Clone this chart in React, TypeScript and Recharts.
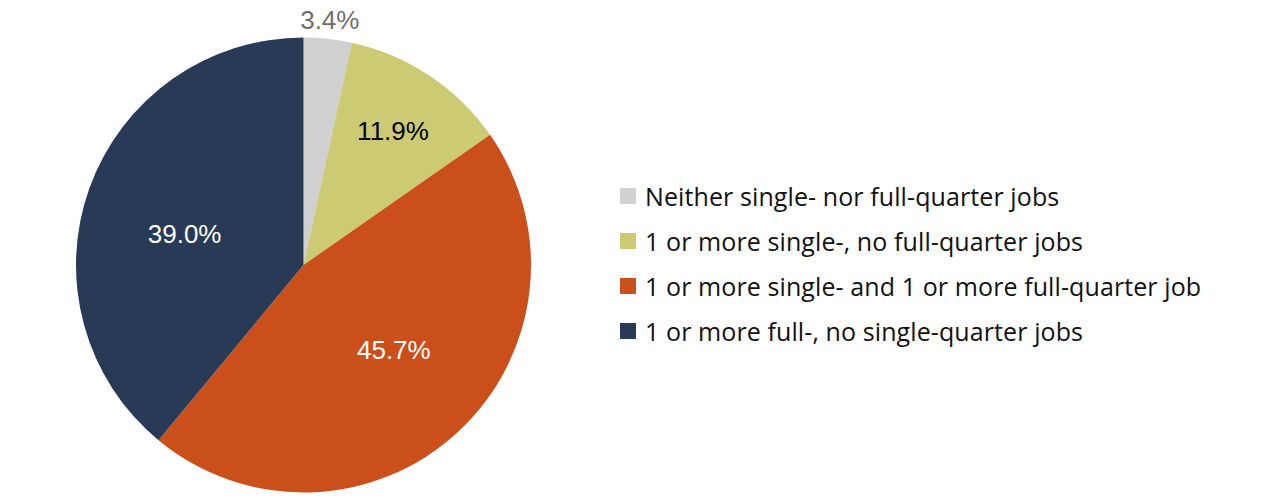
import React from "react";
import { PieChart, Pie, Cell, Legend } from "recharts";

const categories = [
  "Neither single- nor full-quarter jobs",
  "1 or more single-, no full-quarter jobs",
  "1 or more single- and 1 or more full-quarter job",
  "1 or more full-, no single-quarter jobs",
];
const values = [3.4, 11.9, 45.7, 39.0];
const colors = ["#D0D0D0", "#CCCB74", "#CB4F1B", "#283A55"];
const labelColors = ["#707070", "#000000", "#FFFFFF", "#FFFFFF"];
const labelRadiusFactors = [1.085, 0.71, 0.546, 0.54];
const labelAngleOffsets = [0, 0, 4, 5.2];

const data = categories.map((name, i) => ({ name, value: values[i] }));

const RADIAN = Math.PI / 180;

const renderLabel = (props: any) => {
  const { cx, cy, midAngle, outerRadius, index, value } = props;
  const r = outerRadius * labelRadiusFactors[index];
  const a = midAngle + labelAngleOffsets[index];
  const x = cx + r * Math.cos(-a * RADIAN);
  const y = cy + r * Math.sin(-a * RADIAN);
  return (
    <text
      x={x}
      y={y}
      fill={labelColors[index]}
      textAnchor="middle"
      dominantBaseline="central"
      style={{ fontFamily: "Liberation Sans, Arial, sans-serif", fontSize: 26 }}
    >
      {value.toFixed(1)}%
    </text>
  );
};

const renderLegend = () => (
  <div style={{ fontFamily: "'Open Sans', sans-serif", fontSize: 25, color: "#111", letterSpacing: 0.1 }}>
    {data.map((d, i) => (
      <div key={d.name} style={{ display: "flex", alignItems: "center", height: 45 }}>
        <span
          style={{
            display: "inline-block",
            width: 16,
            height: 16,
            background: colors[i],
            marginRight: 9,
            flexShrink: 0,
          }}
        />
        <span style={{ whiteSpace: "nowrap" }}>{d.name}</span>
      </div>
    ))}
  </div>
);

export default function App() {
  return (
    <div style={{ position: "absolute", left: 0, top: 0, width: 1280, height: 500, background: "#fff" }}>
      <PieChart width={1280} height={500} margin={{ top: 0, right: 0, bottom: 0, left: 0 }}>
        <Pie
          data={data}
          dataKey="value"
          nameKey="name"
          cx={303.5}
          cy={265}
          outerRadius={227.5}
          startAngle={90}
          endAngle={-270}
          stroke="none"
          label={renderLabel}
          labelLine={false}
          isAnimationActive={false}
        >
          {data.map((d, i) => (
            <Cell key={d.name} fill={colors[i]} />
          ))}
        </Pie>
        <Legend
          content={renderLegend}
          layout="vertical"
          verticalAlign="middle"
          align="right"
          wrapperStyle={{ left: 620, top: 173.5, right: "auto", width: 650 }}
        />
      </PieChart>
    </div>
  );
}
